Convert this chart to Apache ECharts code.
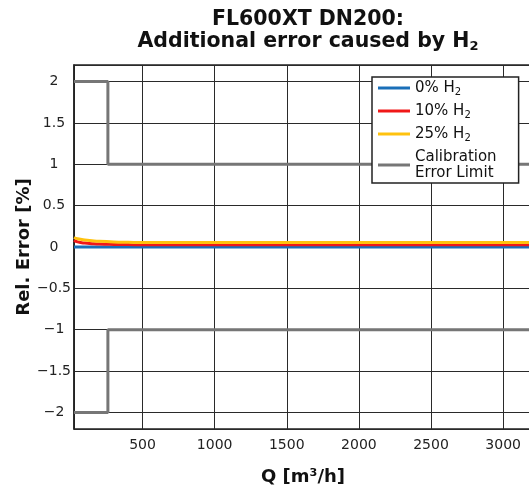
<!DOCTYPE html>
<html>
<head>
<meta charset="utf-8">
<script src="https://cdn.jsdelivr.net/npm/echarts@6/dist/echarts.min.js"></script>
<style>
  html, body { margin: 0; padding: 0; background: #fff; }
  #chart { width: 529px; height: 487px; }
</style>
</head>
<body>
<div id="chart"></div>
<script>
// flow rate Q [m3/h]
const flowQ = [25, 50, 100, 150, 200, 300, 400, 500, 1000, 2000, 3200]
// relative error [%] per hydrogen content
const errH0 = [0, 0, 0, 0, 0, 0, 0, 0, 0, 0, 0]
const errH10 = [0.08, 0.062, 0.047, 0.04, 0.035, 0.031, 0.029, 0.028, 0.028, 0.028, 0.028]
const errH25 = [0.115, 0.1, 0.085, 0.076, 0.069, 0.061, 0.057, 0.054, 0.053, 0.053, 0.053]
// calibration error limit (step at transition flow)
const limitQ = [25, 260, 260, 3200]
const limitUpper = [2, 2, 1, 1]
const limitLower = [-2, -2, -1, -1]

const seriesNames = ['0% H2', '10% H2', '25% H2', 'Calibration\nError Limit']
const seriesColors = ['#1a6fb8', '#f01818', '#ffc20e', '#767676']

const FONT = 'DejaVu Sans'

const pairs = (xs, ys) => xs.map((x, i) => [x, ys[i]])

const chart = echarts.init(document.getElementById('chart'))

const lineSeries = (name, data, color, smooth) => ({
  name: name,
  type: 'line',
  data: data,
  smooth: smooth,
  showSymbol: false,
  symbol: 'none',
  color: color,
  lineStyle: { color: color, width: 3 },
  animation: false
})

chart.setOption({
  animation: false,
  title: {
    text: 'FL600XT DN200:\nAdditional error caused by H{s|2}',
    left: 303,
    top: 4,
    textAlign: 'center',
    textStyle: {
      fontFamily: FONT,
      fontWeight: 'bold',
      fontSize: 20.5,
      lineHeight: 22,
      color: '#111',
      rich: {
        s: { fontFamily: FONT, fontWeight: 'bold', fontSize: 13, padding: [10, 0, 0, 0], color: '#111' }
      }
    }
  },
  grid: {
    left: 74,
    right: -3,
    top: 65,
    bottom: 58,
    outerBoundsMode: 'none',
    containLabel: false,
    show: true,
    borderColor: '#222',
    borderWidth: 1.5,
    backgroundColor: '#fff'
  },
  legend: {
    orient: 'vertical',
    left: 372,
    top: 77,
    padding: [3, 22, 2, 6],
    itemGap: 6,
    itemWidth: 32,
    itemHeight: 3,
    icon: 'rect',
    backgroundColor: '#fff',
    borderColor: '#222',
    borderWidth: 1.5,
    data: seriesNames,
    formatter: name => name.replace(' H2', ' H{s|2}'),
    textStyle: {
      fontFamily: FONT,
      fontSize: 15,
      lineHeight: 16,
      color: '#111',
      rich: {
        s: { fontFamily: FONT, fontSize: 10, padding: [8, 0, 0, 0], color: '#111' }
      }
    }
  },
  xAxis: {
    type: 'value',
    min: 25,
    max: 3200,
    splitNumber: 6,
    name: 'Q [m³/h]',
    nameLocation: 'middle',
    nameGap: 39,
    nameMoveOverlap: false,
    nameTextStyle: { fontFamily: FONT, fontWeight: 'bold', fontSize: 18, color: '#111' },
    axisLine: { show: true, lineStyle: { color: '#222', width: 1.5 } },
    axisTick: { show: false },
    axisLabel: {
      fontFamily: FONT,
      fontSize: 14,
      color: '#222',
      margin: 9,
      showMinLabel: false,
      showMaxLabel: false,
      formatter: v => String(v)
    },
    splitLine: { show: true, lineStyle: { color: '#2a2a2a', width: 1 } }
  },
  yAxis: {
    type: 'value',
    min: -2.2,
    max: 2.2,
    splitNumber: 9,
    name: 'Rel. Error [%]',
    nameLocation: 'middle',
    nameGap: 41,
    nameMoveOverlap: false,
    nameTextStyle: { fontFamily: FONT, fontWeight: 'bold', fontSize: 18, color: '#111' },
    axisLine: { show: true, lineStyle: { color: '#222', width: 1.5 } },
    axisTick: { show: false },
    axisLabel: {
      fontFamily: FONT,
      fontSize: 14,
      color: '#222',
      margin: 20,
      align: 'center',
      showMinLabel: false,
      showMaxLabel: false,
      formatter: v => (v < 0 ? '\u2212' + Math.abs(v) : String(v))
    },
    splitLine: { show: true, lineStyle: { color: '#2a2a2a', width: 1 } }
  },
  series: [
    lineSeries(seriesNames[0], pairs(flowQ, errH0), seriesColors[0], true),
    lineSeries(seriesNames[1], pairs(flowQ, errH10), seriesColors[1], true),
    lineSeries(seriesNames[2], pairs(flowQ, errH25), seriesColors[2], true),
    lineSeries(seriesNames[3], pairs(limitQ, limitUpper), seriesColors[3], false),
    // lower limit shares the legend entry with the upper one
    lineSeries(seriesNames[3], pairs(limitQ, limitLower), seriesColors[3], false)
  ]
})
</script>
</body>
</html>
